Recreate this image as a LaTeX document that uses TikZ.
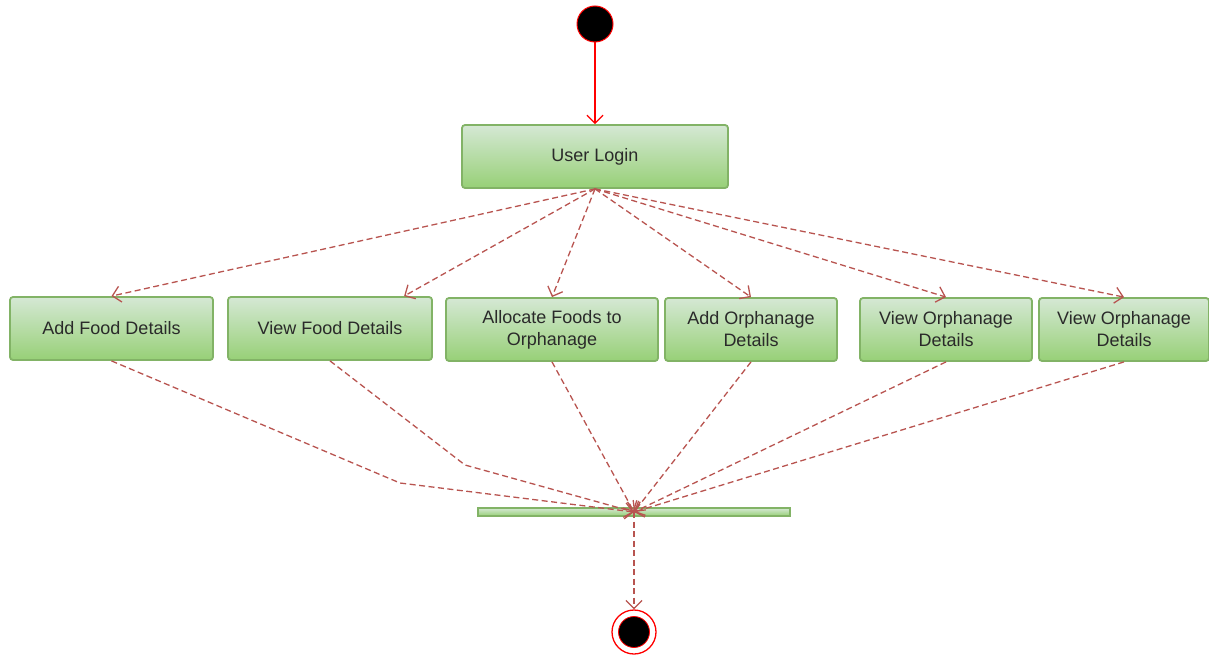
\documentclass[tikz,border=0pt]{standalone}
\usepackage{fontspec}
\setmainfont{Liberation Sans}
\usetikzlibrary{arrows.meta,calc}
\definecolor{gtop}{HTML}{D5E8D4}
\definecolor{gbot}{HTML}{97D077}
\definecolor{gline}{HTML}{82B366}
\definecolor{dred}{HTML}{B85450}
\definecolor{sred}{HTML}{FF0000}
\definecolor{txt}{HTML}{2A2A2A}
\tikzset{
  act/.style={rectangle, rounded corners=3pt, draw=gline, line width=1.8pt,
    top color=gtop, bottom color=gbot, text=txt, align=center,
    font=\fontsize{18}{22}\selectfont, inner sep=0pt},
  tip/.style={-{Straight Barb[length=8pt,width=16pt,line width=1.3pt]}},
  flow/.style={draw=dred, line width=1.3pt, dash pattern=on 6pt off 3.5pt, tip},
}
\begin{document}
\begin{tikzpicture}[x=1pt,y=-1pt]
\useasboundingbox (0,0) rectangle (1209,655);
\node[circle, fill=black, draw=sred, line width=1pt, minimum size=36pt, inner sep=0pt] (start) at (595,24) {};
\node[act, minimum width=266pt, minimum height=63pt] (login) at (595,156.5) {User Login};
\node[act, minimum width=203pt, minimum height=63pt] (b1) at (111.5,328.5) {Add Food Details};
\node[act, minimum width=204pt, minimum height=63pt] (b2) at (330,328.5) {View Food Details};
\node[act, minimum width=212pt, minimum height=63pt] (b3) at (552,329.5) {Allocate Foods to\\Orphanage};
\node[act, minimum width=172pt, minimum height=63pt] (b4) at (751,329.5) {Add Orphanage\\Details};
\node[act, minimum width=172pt, minimum height=63pt] (b5) at (946,329.5) {View Orphanage\\Details};
\node[act, minimum width=170pt, minimum height=63pt] (b6) at (1124,329.5) {View Orphanage\\Details};
\node[rectangle, draw=gline, line width=1.2pt, top color=gtop, bottom color=gbot,
  minimum width=312pt, minimum height=8pt, inner sep=0pt] (bar) at (634,512) {};
\node[circle, draw=sred, line width=1.3pt, fill=white, minimum size=44pt, inner sep=0pt] (end) at (634,632) {};
\node[circle, fill=black, draw=sred, line width=0.8pt, minimum size=31pt, inner sep=0pt] (endin) at (634,632) {};
\coordinate (j) at (bar.center);
\coordinate (k1) at (400,483);
\coordinate (k2) at (465,465);

\draw[draw=sred, line width=1.3pt, tip] (start) -- (login);
\draw[flow] (login.south) -- (b1.north);
\draw[flow] (login.south) -- ($(b2.north west)!0.86!(b2.north east)$);
\draw[flow] (login.south) -- (b3.north);
\draw[flow] (login.south) -- (b4.north);
\draw[flow] (login.south) -- (b5.north);
\draw[flow] (login.south) -- (b6.north);
\draw[flow] (b1.south) -- (k1) -- (j);
\draw[flow] (b2.south) -- (k2) -- (j);
\draw[flow] (b3.south) -- (j);
\draw[flow] (b4.south) -- (j);
\draw[flow] (b5.south) -- (j);
\draw[flow] (b6.south) -- (j);
\draw[flow] (j) -- (end);
\end{tikzpicture}
\end{document}
